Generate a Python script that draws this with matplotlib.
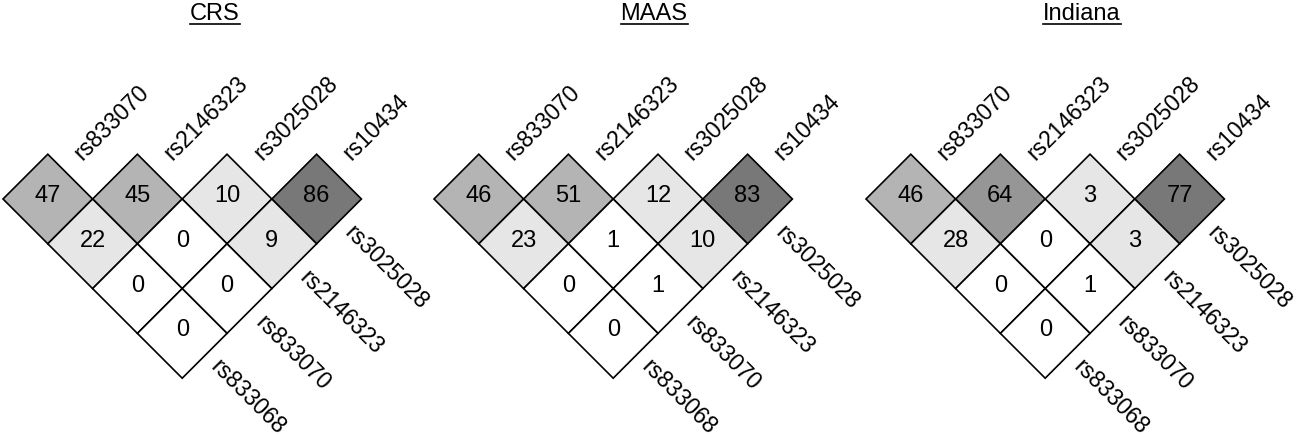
import matplotlib
matplotlib.use('Agg')
import matplotlib.pyplot as plt
from matplotlib.patches import Polygon

plt.rcParams['font.family'] = ['Liberation Sans', 'DejaVu Sans']

snps = ['rs833068', 'rs833070', 'rs2146323', 'rs3025028', 'rs10434']
populations = ['CRS', 'MAAS', 'Indiana']

# r2 (x100), grouped by distance between the two snps: adjacent pairs first
crs_r2 = [[47, 45, 10, 86], [22, 0, 9], [0, 0], [0]]
maas_r2 = [[46, 51, 12, 83], [23, 1, 10], [0, 1], [0]]
indiana_r2 = [[46, 64, 3, 77], [28, 0, 3], [0, 1], [0]]
all_r2 = [crs_r2, maas_r2, indiana_r2]

W, H = 1302, 437
cell = 44.8          # half diagonal of a diamond, in pixels
panel_x = [3, 434, 866]
title_x = [215, 654, 1082]
top_y = 199


def shade(v):
    if v < 2:
        return '#ffffff'
    if v < 35:
        return '#e6e6e6'
    if v < 60:
        return '#b4b4b4'
    if v < 70:
        return '#969696'
    return '#787878'


def draw_panel(ax, x0, r2):
    n = len(snps)
    for d in range(1, n):
        for i in range(n - d):
            j = i + d
            v = r2[d - 1][i]
            cx = x0 + cell * (i + j)
            cy = top_y + cell * (d - 1)
            diamond = Polygon([(cx - cell, cy), (cx, cy - cell), (cx + cell, cy), (cx, cy + cell)],
                              closed=True, facecolor=shade(v), edgecolor='black', linewidth=1.2)
            ax.add_patch(diamond)
            ax.text(cx, cy - 3, str(v), ha='center', va='center', fontsize=17)

    # labels along the top
    for j in range(1, n):
        cx = x0 + cell * (2 * j - 1)
        ax.text(cx + 35, top_y - 38, snps[j], rotation=45, rotation_mode='anchor',
                ha='left', va='baseline', fontsize=16.5)

    # labels down the right side
    for i in range(n - 1):
        d = n - 1 - i
        cx = x0 + cell * (i + n - 1)
        cy = top_y + cell * (d - 1)
        ax.text(cx + 27, cy + 35, snps[i], rotation=-45, rotation_mode='anchor',
                ha='left', va='baseline', fontsize=16.5)


fig = plt.figure(figsize=(W / 100, H / 100), dpi=100)
ax = fig.add_axes([0, 0, 1, 1])
ax.set_xlim(0, W)
ax.set_ylim(H, 0)
ax.axis('off')

titles = []
for k in range(len(populations)):
    draw_panel(ax, panel_x[k], all_r2[k])
    t = ax.text(title_x[k], 14, populations[k], ha='center', va='center', fontsize=17)
    titles.append(t)

# underline the titles
fig.canvas.draw()
renderer = fig.canvas.get_renderer()
inv = ax.transData.inverted()
for t in titles:
    bb = t.get_window_extent(renderer)
    (xa, ya), (xb, yb) = inv.transform([(bb.x0, bb.y0), (bb.x1, bb.y0)])
    ax.plot([xa, xb], [ya - 1, ya - 1], color='black', linewidth=1.2)

fig.savefig('out.png', dpi=100)
